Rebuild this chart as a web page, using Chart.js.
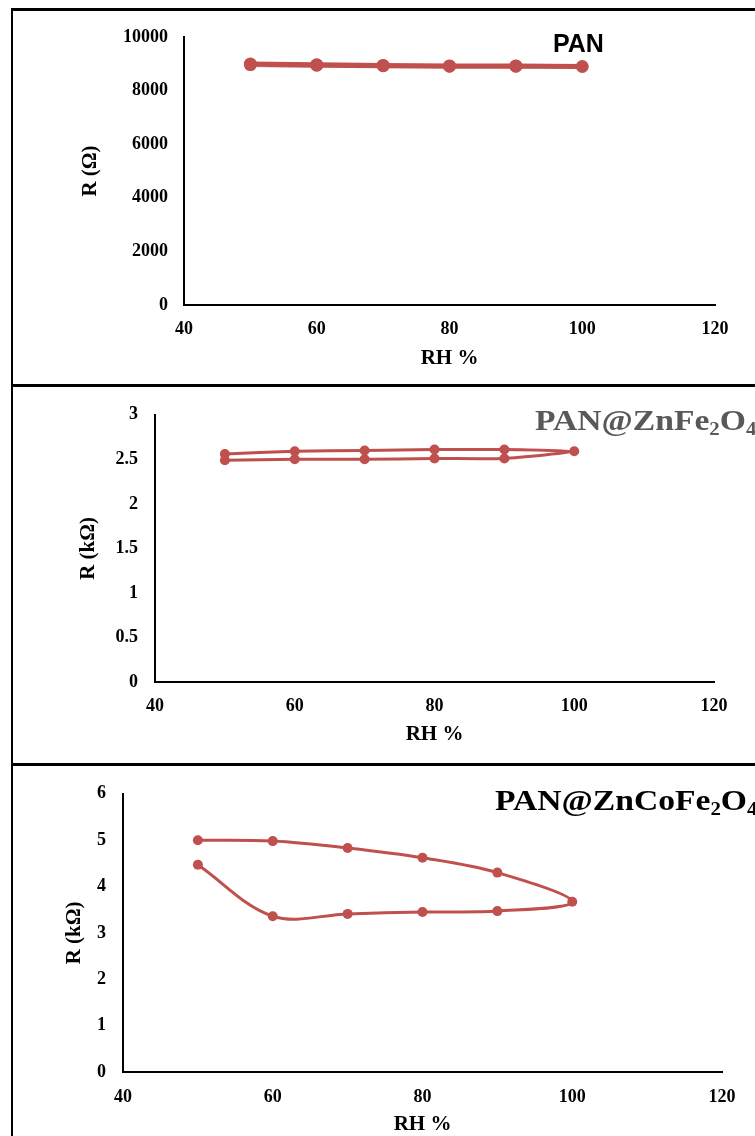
<!DOCTYPE html>
<html>
<head>
<meta charset="utf-8">
<script src="https://cdn.jsdelivr.net/npm/chart.js@4.4.0/dist/chart.umd.min.js"></script>
<style>
html, body { margin: 0; padding: 0; background: #fff; }
#page { position: relative; width: 755px; height: 1136px; overflow: hidden; background: #fff; }
canvas { position: absolute; left: 0; }
.rule { position: absolute; background: #000; }
.tag { position: absolute; white-space: nowrap; line-height: 1; font-weight: bold; transform-origin: left top; }
.tag sub { font-size: 0.62em; vertical-align: -0.25em; line-height: 0; }
</style>
</head>
<body>
<div id="page">
  <canvas id="c1" width="755" height="384" style="top:0"></canvas>
  <canvas id="c2" width="755" height="376" style="top:387px"></canvas>
  <canvas id="c3" width="755" height="380" style="top:766px"></canvas>

  <div class="rule" style="left:11px;top:8px;width:2px;height:1128px"></div>
  <div class="rule" style="left:11px;top:8px;width:744px;height:3px"></div>
  <div class="rule" style="left:11px;top:384px;width:744px;height:3px"></div>
  <div class="rule" style="left:11px;top:763px;width:744px;height:3px"></div>

  <div class="tag" style="left:553px;top:31px;font-family:'Liberation Sans',Arial,sans-serif;font-size:25px;color:#000">PAN</div>
  <div class="tag" style="left:535px;top:405px;font-family:'Liberation Serif','Times New Roman',serif;font-size:30px;color:#595959;transform:scaleX(1.12)">PAN@ZnFe<sub>2</sub>O<sub>4</sub></div>
  <div class="tag" style="left:495px;top:785px;font-family:'Liberation Serif','Times New Roman',serif;font-size:30px;color:#000;transform:scaleX(1.12)">PAN@ZnCoFe<sub>2</sub>O<sub>4</sub></div>
</div>

<script>
// --- Data ---
const rh = [50, 60, 70, 80, 90, 100];
const xTicks = [40, 60, 80, 100, 120];

// PAN (ohm): naik 50->100, turun 100->50
const panUp = [8990, 8960, 8940, 8920, 8920, 8900];
const panDown = [8970, 8950, 8930, 8910, 8910, 8900];
const panTicks = [0, 2000, 4000, 6000, 8000, 10000];

// PAN@ZnFe2O4 (kohm)
const znfeUp = [2.56, 2.59, 2.60, 2.61, 2.61, 2.59];
const znfeDown = [2.49, 2.50, 2.50, 2.51, 2.51, 2.59];
const znfeTicks = [0, 0.5, 1, 1.5, 2, 2.5, 3];

// PAN@ZnCoFe2O4 (kohm)
const zncoUp = [5.00, 4.98, 4.83, 4.62, 4.30, 3.67];
const zncoDown = [4.47, 3.36, 3.41, 3.45, 3.47, 3.67];
const zncoTicks = [0, 1, 2, 3, 4, 5, 6];

const RED = '#C0504D';
const serif = "'Liberation Serif', 'Times New Roman', serif";

// loop: naik semua titik, lalu turun dari 90 kembali ke 50
function loopPoints(up, down) {
  const pts = rh.map((x, i) => ({ x: x, y: up[i] }));
  for (let i = rh.length - 2; i >= 0; i--) pts.push({ x: rh[i], y: down[i] });
  return pts;
}

function makeChart(id, up, down, yTicks, yTitle, lay) {
  const ctx = document.getElementById(id).getContext('2d');
  return new Chart(ctx, {
    type: 'scatter',
    data: {
      datasets: [{
        data: loopPoints(up, down),
        showLine: true,
        borderColor: RED,
        backgroundColor: RED,
        borderWidth: lay.lw,
        pointRadius: lay.pr,
        pointBorderWidth: 0,
        pointBackgroundColor: RED,
        tension: lay.tension
      }]
    },
    options: {
      responsive: false,
      animation: false,
      layout: { padding: { left: 0, right: lay.right, top: lay.top, bottom: 0 } },
      plugins: { legend: { display: false }, tooltip: { enabled: false } },
      scales: {
        x: {
          type: 'linear', min: 40, max: 120,
          afterBuildTicks: s => { s.ticks = xTicks.map(v => ({ value: v })); },
          afterFit: s => { s.height = lay.xh; },
          grid: { display: false, drawTicks: false },
          border: { display: true, color: '#000', width: 2 },
          ticks: { color: '#000', padding: lay.xtp, font: { family: serif, size: 18, weight: 'bold' }, callback: v => String(v) },
          title: { display: true, text: 'RH %', color: '#000', font: { family: serif, size: 21, weight: 'bold' }, padding: { top: 0, bottom: lay.xtb } }
        },
        y: {
          type: 'linear', min: yTicks[0], max: yTicks[yTicks.length - 1],
          afterBuildTicks: s => { s.ticks = yTicks.map(v => ({ value: v })); },
          afterFit: s => { s.width = lay.yw; },
          grid: { display: false, drawTicks: false },
          border: { display: true, color: '#000', width: 2 },
          ticks: { color: '#000', padding: lay.ytp, font: { family: serif, size: 18, weight: 'bold' }, callback: v => String(v) },
          title: { display: true, text: yTitle, color: '#000', font: { family: serif, size: 21, weight: 'bold' }, padding: { top: lay.ytt, bottom: 0 } }
        }
      }
    }
  });
}

makeChart('c1', panUp, panDown, panTicks, 'R (Ω)',
  { top: 37, right: 40, yw: 184, xh: 79, xtp: 14, xtb: 13, ytp: 16, ytt: 78, lw: 5, pr: 6.5, tension: 0 });
makeChart('c2', znfeUp, znfeDown, znfeTicks, 'R (kΩ)',
  { top: 21, right: 41, yw: 155, xh: 81, xtp: 14, xtb: 16, ytp: 17, ytt: 76, lw: 3, pr: 5, tension: 0.2 });
makeChart('c3', zncoUp, zncoDown, zncoTicks, 'R (kΩ)',
  { top: 13, right: 33, yw: 123, xh: 74, xtp: 15, xtb: 9, ytp: 17, ytt: 62, lw: 3, pr: 5, tension: 0.35 });
</script>
</body>
</html>
